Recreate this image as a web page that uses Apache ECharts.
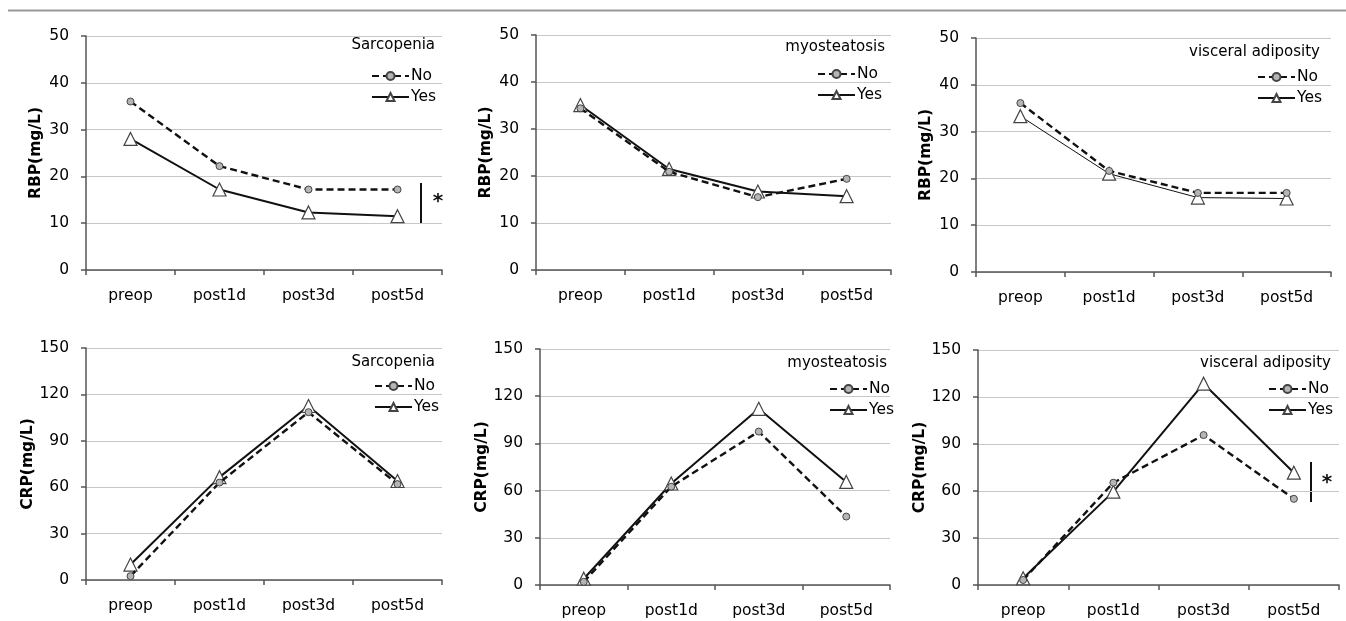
<!DOCTYPE html>
<html>
<head>
<meta charset="utf-8">
<script src="https://cdn.jsdelivr.net/npm/echarts@6/dist/echarts.min.js"></script>
<style>
html,body{margin:0;padding:0;background:#fff;}
#c{width:1346px;height:621px;}
</style>
</head>
<body>
<div id="c"></div>
<script>
// ---- data ----
const categories = ['preop', 'post1d', 'post3d', 'post5d'];
const panelTitles = ['Sarcopenia', 'myosteatosis', 'visceral adiposity', 'Sarcopenia', 'myosteatosis', 'visceral adiposity'];
const yNames = ['RBP(mg/L)', 'RBP(mg/L)', 'RBP(mg/L)', 'CRP(mg/L)', 'CRP(mg/L)', 'CRP(mg/L)'];
const rbpTicks = [0, 10, 20, 30, 40, 50];
const crpTicks = [0, 30, 60, 90, 120, 150];

const rbpSarcNo  = [36.0, 22.2, 17.2, 17.2];
const rbpSarcYes = [28.0, 17.2, 12.3, 11.5];
const rbpMyoNo   = [34.4, 20.9, 15.5, 19.4];
const rbpMyoYes  = [35.1, 21.5, 16.7, 15.7];
const rbpViscNo  = [36.1, 21.6, 16.9, 16.9];
const rbpViscYes = [33.3, 21.0, 15.9, 15.7];
const crpSarcNo  = [2.5, 63.0, 108.5, 62.0];
const crpSarcYes = [10.0, 66.5, 112.5, 64.0];
const crpMyoNo   = [2.0, 62.5, 97.5, 43.5];
const crpMyoYes  = [4.0, 64.5, 112.0, 65.5];
const crpViscNo  = [3.2, 65.3, 95.7, 55.0];
const crpViscYes = [4.3, 59.6, 128.5, 71.7];

const noData  = [rbpSarcNo, rbpMyoNo, rbpViscNo, crpSarcNo, crpMyoNo, crpViscNo];
const yesData = [rbpSarcYes, rbpMyoYes, rbpViscYes, crpSarcYes, crpMyoYes, crpViscYes];

// ---- layout ----
const grids = [
  {left: 86,  top: 36,  right: 1346 - 442,  bottom: 621 - 270},
  {left: 536, top: 35,  right: 1346 - 891,  bottom: 621 - 270},
  {left: 976, top: 38,  right: 1346 - 1331, bottom: 621 - 272},
  {left: 86,  top: 348, right: 1346 - 442,  bottom: 621 - 580},
  {left: 540, top: 349, right: 1346 - 890,  bottom: 621 - 585},
  {left: 978, top: 350, right: 1346 - 1339, bottom: 621 - 585}
];
const yNameGaps = [42, 42, 42, 50, 50, 50];
const titlePos = [[435, 45], [885, 47], [1320, 52], [435, 362], [887, 363], [1331, 363]];
const legendPos = [[366, 63], [812, 61], [1252, 64], [369, 373], [824, 376], [1263, 376]];
const yesWidth = [2, 2, 1, 2, 2, 2];

const FONT = 'DejaVu Sans';
const txt = '#000';

const xAxis = [], yAxis = [], series = [], legend = [], graphic = [];
grids.forEach((g, i) => {
  const ticks = i < 3 ? rbpTicks : crpTicks;
  xAxis.push({
    type: 'category', gridIndex: i, data: categories, boundaryGap: true,
    axisLine: {lineStyle: {color: '#555', width: 1.5}},
    axisTick: {show: true, length: 5, lineStyle: {color: '#555', width: 1.5}},
    axisLabel: {color: txt, fontFamily: FONT, fontSize: 15.5, margin: 18}
  });
  yAxis.push({
    type: 'value', gridIndex: i, min: ticks[0], max: ticks[ticks.length - 1],
    interval: ticks[1] - ticks[0],
    name: yNames[i], nameLocation: 'middle', nameGap: yNameGaps[i],
    nameTextStyle: {color: txt, fontFamily: FONT, fontSize: 15.5, fontWeight: 'bold'},
    axisLine: {show: true, lineStyle: {color: '#555', width: 1.5}},
    axisTick: {show: true, length: 5, lineStyle: {color: '#555', width: 1.5}},
    axisLabel: {color: txt, fontFamily: FONT, fontSize: 15.5, margin: 17},
    splitLine: {show: true, lineStyle: {color: '#c8c8c8', width: 1.2}}
  });
  series.push({
    name: 'No#' + i, type: 'line', xAxisIndex: i, yAxisIndex: i, data: noData[i],
    symbol: 'circle', symbolSize: 7, z: 3,
    lineStyle: {color: '#111', width: 2.4, type: [7, 4]},
    itemStyle: {color: '#b5b5b5', borderColor: '#444', borderWidth: 1}
  });
  series.push({
    name: 'Yes#' + i, type: 'line', xAxisIndex: i, yAxisIndex: i, data: yesData[i],
    symbol: 'triangle', symbolSize: 13, z: 2,
    lineStyle: {color: '#111', width: yesWidth[i]},
    itemStyle: {color: '#fff', borderColor: '#444', borderWidth: 1.2}
  });
  legend.push({
    data: ['No#' + i, 'Yes#' + i], orient: 'vertical',
    left: legendPos[i][0], top: legendPos[i][1],
    itemWidth: 37, itemHeight: 10, itemGap: 5,
    formatter: n => n.split('#')[0],
    textStyle: {color: txt, fontFamily: FONT, fontSize: 15.5, padding: [0, 0, 0, -3]},
    selectedMode: false
  });
  graphic.push({
    type: 'text', x: titlePos[i][0], y: titlePos[i][1],
    style: {text: panelTitles[i], fill: txt, font: '15px "' + FONT + '"', textAlign: 'right', textVerticalAlign: 'middle'}
  });
});

// top rule
graphic.push({type: 'line', shape: {x1: 8, y1: 10.5, x2: 1346, y2: 10.5}, style: {stroke: '#999', lineWidth: 2}});
// significance brackets
graphic.push({type: 'line', shape: {x1: 421, y1: 183, x2: 421, y2: 224}, style: {stroke: '#111', lineWidth: 2}});
graphic.push({type: 'text', x: 438, y: 202, style: {text: '*', fill: '#111', font: 'bold 20px "' + FONT + '"', textAlign: 'center', textVerticalAlign: 'middle'}});
graphic.push({type: 'line', shape: {x1: 1311, y1: 462, x2: 1311, y2: 502}, style: {stroke: '#111', lineWidth: 2}});
graphic.push({type: 'text', x: 1327, y: 483, style: {text: '*', fill: '#111', font: 'bold 20px "' + FONT + '"', textAlign: 'center', textVerticalAlign: 'middle'}});

const chart = echarts.init(document.getElementById('c'), null, {renderer: 'canvas'});
chart.setOption({
  animation: false,
  backgroundColor: '#fff',
  grid: grids, xAxis, yAxis, series, legend, graphic
});
</script>
</body>
</html>
